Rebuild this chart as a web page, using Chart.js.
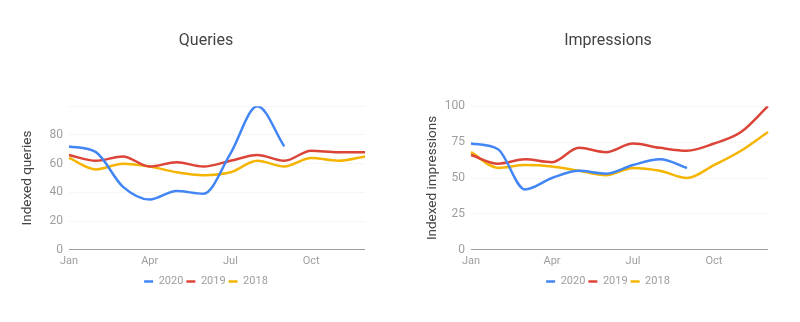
<!DOCTYPE html>
<html>
<head>
<meta charset="utf-8">
<script src="https://cdn.jsdelivr.net/npm/chart.js@4/dist/chart.umd.min.js"></script>
<style>
  html,body{margin:0;padding:0;background:#fff}
  .wrap{position:relative;width:800px;height:322px}
  .box{position:absolute;top:0;width:400px;height:322px}
</style>
</head>
<body>
<div class="wrap">
  <div class="box" style="left:0"><canvas id="queries"></canvas></div>
  <div class="box" style="left:400px"><canvas id="impressions"></canvas></div>
</div>
<script>
const months=['Jan','Feb','Mar','Apr','May','Jun','Jul','Aug','Sep','Oct','Nov','Dec']
const years=['2020','2019','2018']
const colors=['#4285F4','#DB4437','#F4B400']

// queries, indexed
const queries2020=[72,68,44,35,41,39,67,100,72]
const queries2019=[66,62,65,58,61,58,62,66,62,69,68,68]
const queries2018=[64,56,60,58,54,52,54,62,58,64,62,65]
const queryTicks=[0,20,40,60,80]

// impressions, indexed
const impr2020=[74,70,42,50,55,53,59,63,57]
const impr2019=[66,60,63,61,71,68,74,71,69,74,82,100]
const impr2018=[68,57,59,58,55,52,57,55,50,59,69,82]
const imprTicks=[0,25,50,75,100]

Chart.defaults.font.family='Roboto, Arial, sans-serif'

// padL + yWidth = left edge of plot, spacer = room kept on the right
function makeChart(id,title,axisTitle,series,tickList,step,padL,yWidth,titlePad,spacer){
  const datasets=series.map((d,i)=>({
    label:years[i],
    data:d,
    borderColor:colors[i],
    backgroundColor:colors[i],
    borderWidth:2.5,
    pointRadius:0,
    pointHoverRadius:0,
    pointStyle:'line',
    cubicInterpolationMode:'monotone',
    fill:false
  }))
  return new Chart(document.getElementById(id),{
    type:'line',
    data:{labels:months,datasets},
    options:{
      responsive:false,
      animation:false,
      events:[],
      layout:{padding:{left:padL,right:0,top:0,bottom:25}},
      plugins:{
        title:{
          display:true,
          text:title,
          color:'#444',
          font:{size:16,weight:'normal'},
          padding:{top:31,bottom:56}
        },
        legend:{
          position:'bottom',
          labels:{
            usePointStyle:true,
            pointStyleWidth:9,
            color:'#9e9e9e',
            font:{size:11},
            padding:3,
            boxHeight:3
          }
        },
        tooltip:{enabled:false}
      },
      scales:{
        x:{
          offset:false,
          grid:{display:false,drawTicks:false},
          border:{display:false},
          ticks:{
            autoSkip:false,
            maxRotation:0,
            color:'#9e9e9e',
            font:{size:11},
            padding:5,
            callback:(v,i)=>i%3===0?months[i]:''
          }
        },
        y:{
          min:0,
          max:100,
          border:{display:false},
          grid:{
            drawTicks:false,
            color:c=>c.tick.value===0?'#9e9e9e':'#f6f6f6',
            lineWidth:1
          },
          ticks:{
            stepSize:step,
            color:'#9e9e9e',
            font:{size:12},
            padding:6,
            callback:v=>tickList.includes(v)?v:''
          },
          title:{
            display:true,
            text:axisTitle,
            color:'#444',
            font:{size:13.5},
            padding:{top:titlePad-padL,bottom:0}
          },
          afterFit:s=>{s.width=yWidth}
        },
        spacer:{
          type:'linear',
          position:'right',
          grid:{display:false},
          border:{display:false},
          ticks:{display:false},
          afterFit:s=>{s.width=spacer}
        }
      }
    }
  })
}

const c1=document.getElementById('queries'); c1.width=400; c1.height=322
const c2=document.getElementById('impressions'); c2.width=400; c2.height=322

makeChart('queries','Queries','Indexed queries',[queries2020,queries2019,queries2018],queryTicks,20,12,57,20,35)
makeChart('impressions','Impressions','Indexed impressions',[impr2020,impr2019,impr2018],imprTicks,25,16,55,25,32)
</script>
</body>
</html>
